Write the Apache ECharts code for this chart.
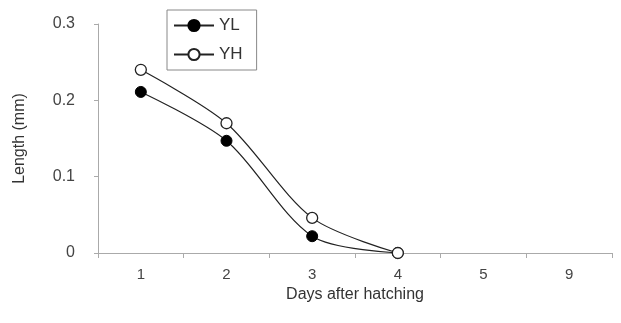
<!DOCTYPE html>
<html><head><meta charset="utf-8">
<script src="https://cdn.jsdelivr.net/npm/echarts@6/dist/echarts.min.js"></script>
<style>html,body{margin:0;padding:0;background:#fff}#c{width:621px;height:323px}</style>
</head><body><div id="c"></div>
<script>
const categories = ['1','2','3','4','5','9'];
const yl = [0.211, 0.147, 0.022, 0, null, null];
const yh = [0.240, 0.170, 0.046, 0, null, null];
const yTicks = [0, 0.1, 0.2, 0.3];

const chart = echarts.init(document.getElementById('c'));
const font = 'Liberation Sans, Arial, sans-serif';
chart.setOption({
  animation: false,
  backgroundColor: '#fff',
  grid: {left: 98, right: 9, top: 24, bottom: 70},
  legend: {
    left: 167, top: 10, orient: 'vertical',
    borderColor: '#888', borderWidth: 1, padding: [7, 14, 7, 6], itemGap: 12,
    itemWidth: 40, itemHeight: 14,
    textStyle: {fontFamily: font, fontSize: 17, color: '#333'},
    data: ['YL', 'YH']
  },
  xAxis: {
    type: 'category', data: categories, boundaryGap: true,
    name: 'Days after hatching', nameLocation: 'middle', nameGap: 30,
    nameTextStyle: {fontFamily: font, fontSize: 16, color: '#333'},
    axisLine: {lineStyle: {color: '#aaa'}},
    axisTick: {show: true, length: 5, lineStyle: {color: '#aaa'}},
    axisLabel: {fontFamily: font, fontSize: 15, color: '#444', margin: 14},
    splitLine: {show: false}
  },
  yAxis: {
    type: 'value', min: 0, max: 0.3, interval: 0.1,
    name: 'Length (mm)', nameLocation: 'middle', nameGap: 70, nameRotate: 90,
    nameTextStyle: {fontFamily: font, fontSize: 16, color: '#333'},
    axisLine: {show: true, lineStyle: {color: '#aaa'}},
    axisTick: {show: true, length: 4, lineStyle: {color: '#aaa'}},
    axisLabel: {fontFamily: font, fontSize: 16, color: '#444', margin: 23,
      formatter: v => { const t = yTicks.find(x => Math.abs(x - v) < 1e-9); return t === 0 ? '0' : String(t); }},
    splitLine: {show: false}
  },
  series: [
    {name: 'YL', type: 'line', data: yl, smooth: 0.3, symbol: 'circle', symbolSize: 11,
      lineStyle: {color: '#222', width: 1.2}, itemStyle: {color: '#000', borderColor: '#000', borderWidth: 1}},
    {name: 'YH', type: 'line', data: yh, smooth: 0.3, symbol: 'circle', symbolSize: 11,
      lineStyle: {color: '#222', width: 1.2}, itemStyle: {color: '#fff', borderColor: '#222', borderWidth: 1.3}}
  ]
});
</script></body></html>
